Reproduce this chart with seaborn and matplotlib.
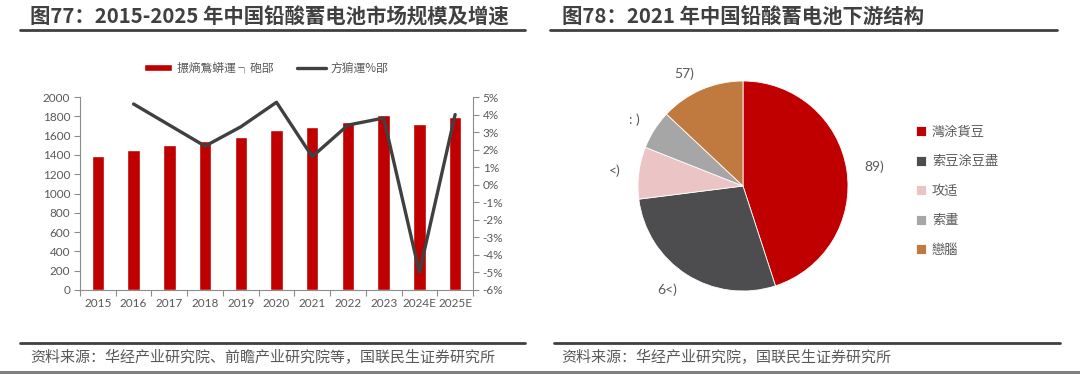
import numpy as np
import pandas as pd
import matplotlib
matplotlib.use("Agg")
import matplotlib.pyplot as plt
import seaborn as sns
from matplotlib.lines import Line2D
from matplotlib.patches import Patch, Rectangle

# ---------------- data ----------------
years = ["2015", "2016", "2017", "2018", "2019", "2020", "2021", "2022", "2023", "2024E", "2025E"]
market_size = [1390, 1455, 1505, 1540, 1590, 1660, 1690, 1745, 1810, 1720, 1790]
growth_pct = [np.nan, 4.6, 3.4, 2.2, 3.3, 4.7, 1.6, 3.4, 3.8, -5.0, 4.0]
left_yticks = list(range(0, 2001, 200))
right_yticks = list(range(-6, 6, 1))

bar_legend_label = "搌熵鶩蟒運 ┐砲郘"
line_legend_label = "方猏運%郘"

pie_shares = [45, 28, 8, 6, 13]
pie_value_labels = ["89)", "6<)", "<)", ": )", "57)"]
pie_categories = ["灣涂貨豆", "索豆涂豆盡", "攻适", "索畫", "戀腦"]
pie_colors = ["#C00000", "#4D4D4F", "#EBC5C6", "#A6A6A6", "#C0793F"]

title_left = "图77：2015-2025 年中国铅酸蓄电池市场规模及增速"
title_right = "图78：2021 年中国铅酸蓄电池下游结构"
source_left = "资料来源：华经产业研究院、前瞻产业研究院等，国联民生证券研究所"
source_right = "资料来源：华经产业研究院，国联民生证券研究所"

# ---------------- style ----------------
sns.set_theme(style="white")
plt.rcParams['font.family'] = ['Lato', 'Noto Sans CJK SC', 'DejaVu Sans']
CJK = ['Noto Sans CJK SC', 'DejaVu Sans']
TXT = "#595959"
AX = "#8C8C8C"
DARK = "#404040"

W, H = 1080, 374
fig = plt.figure(figsize=(W / 100, H / 100), dpi=100)
fig.patch.set_facecolor("white")

def fx(px):
    return px / W

def fy(py):
    return 1 - py / H

# ---------------- left chart ----------------
df = pd.DataFrame({"year": years, "size": market_size, "growth": growth_pct})
ax = fig.add_axes([fx(80), fy(290), fx(393), (290 - 97) / H])
sns.barplot(data=df, x="year", y="size", color="#C00000", saturation=1,
            width=0.35, ax=ax)
ax.set_xlim(-0.5, len(years) - 0.5)
ax.set_ylim(0, 2000)
ax.set_yticks(left_yticks)
ax.set_xlabel("")
ax.set_ylabel("")
ax.set_xticks(np.arange(len(years)))
ax.set_xticklabels(years)
ax.set_xticks(np.arange(-0.5, len(years), 1), minor=True)
ax.tick_params(axis="x", which="major", length=0, labelsize=8.5, labelcolor=TXT, pad=6)
ax.tick_params(axis="x", which="minor", bottom=True, length=4, color=AX, width=0.8)
ax.tick_params(axis="y", left=True, length=4, color=AX, width=0.8,
               labelsize=8.5, labelcolor=TXT, pad=3)
for s in ["top", "right"]:
    ax.spines[s].set_visible(False)
for s in ["left", "bottom"]:
    ax.spines[s].set_color(AX)
    ax.spines[s].set_linewidth(0.8)

ax2 = ax.twinx()
sns.lineplot(x=np.arange(len(years)), y=df["growth"], color=DARK, linewidth=2.4, ax=ax2)
ax2.set_ylim(-6, 5)
ax2.set_yticks(right_yticks)
ax2.set_yticklabels([f"{v}%" for v in right_yticks])
ax2.set_ylabel("")
ax2.set_xlim(-0.5, len(years) - 0.5)
for s in ["top", "left", "bottom"]:
    ax2.spines[s].set_visible(False)
ax2.spines["right"].set_color(AX)
ax2.spines["right"].set_linewidth(0.8)
ax2.tick_params(axis="y", right=True, length=4, color=AX, width=0.8,
                labelsize=8.5, labelcolor=TXT, pad=3)

fig.legend(
    [Patch(facecolor="#C00000"), Line2D([0], [0], color=DARK, lw=2.4)],
    [bar_legend_label, line_legend_label],
    loc="center", bbox_to_anchor=(fx(266), fy(68)), ncol=2, frameon=False,
    prop=dict(family=CJK, size=8.5), labelcolor=TXT,
    handlelength=2.4, handleheight=0.55, handletextpad=0.4, columnspacing=2.0)

# ---------------- right chart (pie) ----------------
R = 105
axp = fig.add_axes([fx(743 - R), fy(186 + R), fx(2 * R), 2 * R / H])
wedges, texts = axp.pie(
    pie_shares, colors=pie_colors, startangle=90, counterclock=False,
    labels=pie_value_labels, labeldistance=1.17,
    textprops=dict(fontsize=10, color=TXT),
    wedgeprops=dict(edgecolor="white", linewidth=0.6))
axp.set_xlim(-1, 1)
axp.set_ylim(-1, 1)
axp.set_aspect("equal")
axp.axis("off")

fig.legend(wedges, pie_categories, loc="upper left",
           bbox_to_anchor=(fx(904), fy(114)), frameon=False,
           prop=dict(family=CJK, size=9.5), labelcolor=TXT,
           handlelength=0.75, handleheight=0.75, handletextpad=0.45,
           labelspacing=1.25)

# ---------------- titles / frames / sources ----------------
fig.text(fx(30), fy(17), title_left, fontsize=14.7, fontweight="bold",
         color=DARK, va="center", ha="left", family=CJK)
fig.text(fx(562), fy(17), title_right, fontsize=14.7, fontweight="bold",
         color=DARK, va="center", ha="left", family=CJK)

for x0, x1 in [(20, 525), (550, 1057)]:
    fig.add_artist(Line2D([fx(x0), fx(x1)], [fy(30), fy(30)], color=DARK, lw=2))
for x0, x1 in [(20, 525), (554, 1060)]:
    fig.add_artist(Line2D([fx(x0), fx(x1)], [fy(343), fy(343)], color=DARK, lw=2))

fig.text(fx(30), fy(357), source_left, fontsize=10.8, color=TXT, va="center",
         ha="left", family=CJK)
fig.text(fx(561), fy(357), source_right, fontsize=10.8, color=TXT, va="center",
         ha="left", family=CJK)

fig.add_artist(Rectangle((0, 0), 1, 3 / H, transform=fig.transFigure,
                         facecolor="#7F7F7F", edgecolor="none"))

fig.savefig("out.png", dpi=100, facecolor="white")
